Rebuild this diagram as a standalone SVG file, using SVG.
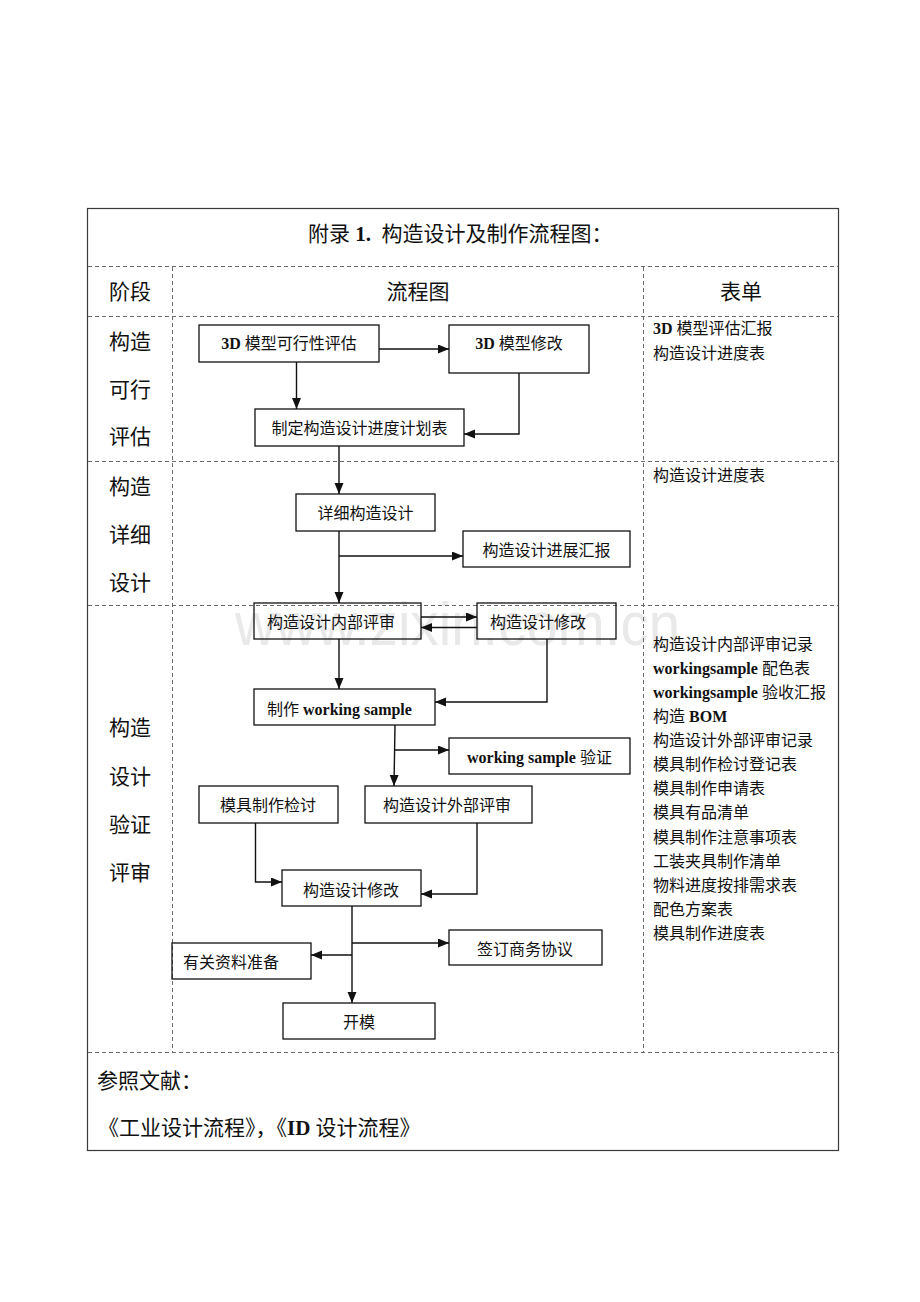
<svg xmlns="http://www.w3.org/2000/svg" width="920" height="1302" viewBox="0 0 920 1302">
<defs>
<style>
.frame{fill:none;stroke:#3a3a3a;stroke-width:1.2}
.dash{fill:none;stroke:#6a6a6a;stroke-width:1;stroke-dasharray:4 3}
.box{fill:none;stroke:#111;stroke-width:1.3}
.conn{fill:none;stroke:#111;stroke-width:1.4}
text{font-family:"Liberation Serif","Noto Sans CJK SC",serif;fill:#111}
.t21{font-size:21px}
.t16{font-size:16px}
.lat{font-weight:bold}
.wm{font-family:"Liberation Sans",Arial,sans-serif;font-size:62px;fill:#e9e9e9}
</style>
<marker id="arr" markerUnits="userSpaceOnUse" markerWidth="12" markerHeight="10" refX="11" refY="4.5" orient="auto">
<path d="M0,0 L11,4.5 L0,9 z" fill="#111"/>
</marker>
</defs>
<rect x="0" y="0" width="920" height="1302" fill="#fff"/>
<text class="wm" x="235" y="645" textLength="445" lengthAdjust="spacingAndGlyphs">www.zixin.com.cn</text>

<g id="table">
<rect class="frame" x="87.5" y="208.5" width="751" height="942"/>
<line class="dash" x1="88" y1="266.5" x2="838" y2="266.5"/>
<line class="dash" x1="88" y1="316.5" x2="838" y2="316.5"/>
<line class="dash" x1="88" y1="461.5" x2="838" y2="461.5"/>
<line class="dash" x1="88" y1="605.5" x2="838" y2="605.5"/>
<line class="dash" x1="88" y1="1052.5" x2="838" y2="1052.5"/>
<line class="dash" x1="172.5" y1="267" x2="172.5" y2="1052"/>
<line class="dash" x1="643.5" y1="267" x2="643.5" y2="1052"/>
<text class="t21" x="308" y="241">附录 <tspan class="lat">1.</tspan>&#160;&#160;构造设计及制作流程图：</text>
<text class="t21" x="130" y="299" text-anchor="middle">阶段</text>
<text class="t21" x="418" y="299" text-anchor="middle">流程图</text>
<text class="t21" x="741" y="299" text-anchor="middle">表单</text>
<g text-anchor="middle" class="t21">
<text x="130" y="349">构造</text>
<text x="130" y="397">可行</text>
<text x="130" y="444">评估</text>
<text x="130" y="494">构造</text>
<text x="130" y="542">详细</text>
<text x="130" y="590">设计</text>
<text x="130" y="735">构造</text>
<text x="130" y="784">设计</text>
<text x="130" y="832">验证</text>
<text x="130" y="880">评审</text>
</g>
<text class="t21" x="97" y="1088">参照文献：</text>
<text class="t21" x="98" y="1135">《工业设计流程》，《<tspan class="lat">ID</tspan>&#160;设计流程》</text>
</g>

<g id="forms" class="t16">
<text x="653" y="334"><tspan class="lat">3D</tspan> 模型评估汇报</text>
<text x="653" y="359">构造设计进度表</text>
<text x="653" y="481">构造设计进度表</text>
<text x="653" y="650">构造设计内部评审记录</text>
<text x="653" y="674"><tspan class="lat">workingsample</tspan> 配色表</text>
<text x="653" y="698"><tspan class="lat">workingsample</tspan> 验收汇报</text>
<text x="653" y="722">构造 <tspan class="lat">BOM</tspan></text>
<text x="653" y="746">构造设计外部评审记录</text>
<text x="653" y="770">模具制作检讨登记表</text>
<text x="653" y="794">模具制作申请表</text>
<text x="653" y="818">模具有品清单</text>
<text x="653" y="843">模具制作注意事项表</text>
<text x="653" y="867">工装夹具制作清单</text>
<text x="653" y="891">物料进度按排需求表</text>
<text x="653" y="915">配色方案表</text>
<text x="653" y="939">模具制作进度表</text>
</g>

<g id="connectors">
<path class="conn" d="M379,349 H449" marker-end="url(#arr)"/>
<path class="conn" d="M296.5,362 V409" marker-end="url(#arr)"/>
<path class="conn" d="M519,373 V434 H464" marker-end="url(#arr)"/>
<path class="conn" d="M339,446 V494" marker-end="url(#arr)"/>
<path class="conn" d="M339,531 V603" marker-end="url(#arr)"/>
<path class="conn" d="M339,556 H463" marker-end="url(#arr)"/>
<path class="conn" d="M421,617 H477" marker-end="url(#arr)"/>
<path class="conn" d="M477,627.5 H421" marker-end="url(#arr)"/>
<path class="conn" d="M339,639 V689" marker-end="url(#arr)"/>
<path class="conn" d="M547,639 V702 H435" marker-end="url(#arr)"/>
<path class="conn" d="M395,725 L394,786" marker-end="url(#arr)"/>
<path class="conn" d="M395,750 H449" marker-end="url(#arr)"/>
<path class="conn" d="M255.5,823 V882 H282" marker-end="url(#arr)"/>
<path class="conn" d="M477,823 V894 H421" marker-end="url(#arr)"/>
<path class="conn" d="M352,906 V1003" marker-end="url(#arr)"/>
<path class="conn" d="M352,943 H449" marker-end="url(#arr)"/>
<path class="conn" d="M352,955 H311" marker-end="url(#arr)"/>
</g>

<g id="n1" class="t16"><rect class="box" x="199" y="325" width="180" height="37"/><text x="289" y="349" text-anchor="middle"><tspan class="lat">3D</tspan> 模型可行性评估</text></g>
<g id="n2" class="t16"><rect class="box" x="449" y="325" width="140" height="48"/><text x="519" y="349" text-anchor="middle"><tspan class="lat">3D</tspan> 模型修改</text></g>
<g id="n3" class="t16"><rect class="box" x="255" y="409" width="209" height="37"/><text x="359.5" y="434" text-anchor="middle">制定构造设计进度计划表</text></g>
<g id="n4" class="t16"><rect class="box" x="296" y="494" width="139" height="37"/><text x="365.5" y="519" text-anchor="middle">详细构造设计</text></g>
<g id="n5" class="t16"><rect class="box" x="463" y="531" width="167" height="36"/><text x="546.5" y="556" text-anchor="middle">构造设计进展汇报</text></g>
<g id="n6" class="t16"><rect class="box" x="254" y="603" width="167" height="36"/><text x="267" y="627.5">构造设计内部评审</text></g>
<g id="n7" class="t16"><rect class="box" x="477" y="603" width="139" height="36"/><text x="490" y="627.5">构造设计修改</text></g>
<g id="n8" class="t16"><rect class="box" x="254" y="689" width="181" height="36"/><text x="267" y="715">制作 <tspan class="lat">working sample</tspan></text></g>
<g id="n9" class="t16"><rect class="box" x="449" y="738" width="181" height="36"/><text x="467" y="763"><tspan class="lat">working sample</tspan> 验证</text></g>
<g id="n10" class="t16"><rect class="box" x="199" y="786" width="139" height="37"/><text x="220" y="811">模具制作检讨</text></g>
<g id="n11" class="t16"><rect class="box" x="365" y="786" width="167" height="37"/><text x="383" y="811">构造设计外部评审</text></g>
<g id="n12" class="t16"><rect class="box" x="282" y="870" width="139" height="36"/><text x="303" y="896">构造设计修改</text></g>
<g id="n13" class="t16"><rect class="box" x="449" y="930" width="153" height="35"/><text x="477" y="955">签订商务协议</text></g>
<g id="n14" class="t16"><rect class="box" x="172" y="943" width="139" height="36"/><text x="183" y="967.5">有关资料准备</text></g>
<g id="n15" class="t16"><rect class="box" x="283" y="1003" width="152" height="36"/><text x="343" y="1027.5">开模</text></g>
</svg>
